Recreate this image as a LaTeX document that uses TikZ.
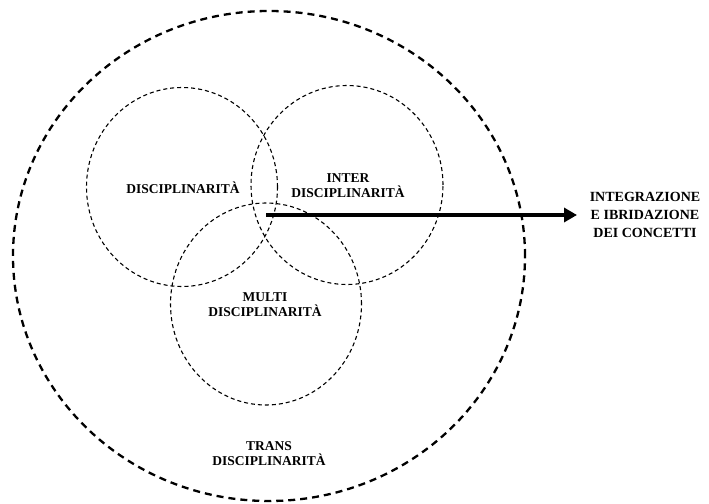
\documentclass[tikz,border=0pt]{standalone}
\usepackage{fontspec}
\setmainfont{Liberation Serif}
\usetikzlibrary{shapes.geometric,arrows.meta}
\begin{document}
\begin{tikzpicture}[x=1pt,y=-1pt,
  outer/.style={ellipse,draw,line width=2.3pt,dash pattern=on 7pt off 5pt,inner sep=0pt},
  inner/.style={ellipse,draw,line width=1.1pt,dash pattern=on 4pt off 3pt,inner sep=0pt},
  lbl/.style={font=\bfseries\fontsize{13.5}{15}\selectfont,align=center,inner sep=0pt}]
\useasboundingbox (0,0) rectangle (709,503);
\node[outer,minimum width=512pt,minimum height=490pt] (trans) at (269,256) {};
\node[inner,minimum width=191pt,minimum height=199pt] (disc) at (182,187) {};
\node[inner,minimum width=192pt,minimum height=199pt] (inter) at (347,185) {};
\node[inner,minimum width=191pt,minimum height=202pt] (multi) at (266,304) {};
\node[lbl] (tdisc) at (183,188) {DISCIPLINARITÀ};
\node[lbl] (tinter) at (348,186) {INTER\\DISCIPLINARITÀ};
\node[lbl] (tmulti) at (265,305) {MULTI\\DISCIPLINARITÀ};
\node[lbl] (ttrans) at (269,454) {TRANS\\DISCIPLINARITÀ};
\node[lbl,font=\bfseries\fontsize{14}{18}\selectfont] (integ) at (645,215) {INTEGRAZIONE\\E IBRIDAZIONE\\DEI CONCETTI};
\coordinate (as) at (266,215);
\coordinate (ae) at (577,215);
\draw[line width=3.8pt,-{Triangle[length=13pt,width=14pt]}] (as) -- (ae);
\end{tikzpicture}
\end{document}
